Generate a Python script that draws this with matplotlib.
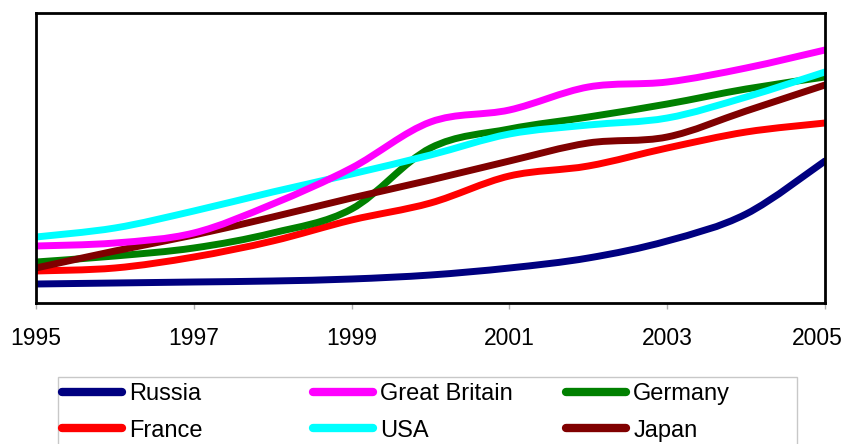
import matplotlib.pyplot as plt
import matplotlib.transforms as mtransforms
from matplotlib.lines import Line2D
from matplotlib.patches import PathPatch, Rectangle
from matplotlib.path import Path

plt.rcParams["font.family"] = ["Liberation Sans", "DejaVu Sans"]

years = list(range(1995, 2006))
tick_years = [1995, 1997, 1999, 2001, 2003, 2005]

russia = [19, 20, 21, 22, 24, 28, 35, 45, 62, 89, 142]
great_britain = [57, 60, 70, 99, 135, 181, 193, 216, 221, 235, 253]
germany = [41, 47, 55, 70, 94, 155, 174, 186, 199, 214, 226]
france = [32, 35, 46, 62, 83, 100, 127, 137, 155, 171, 180]
usa = [66, 75, 92, 111, 129, 148, 169, 178, 185, 206, 231]
japan = [35, 52, 68, 86, 105, 123, 142, 160, 166, 192, 218]

series = [
    ("Russia", russia, "#000080"),
    ("France", france, "#ff0000"),
    ("Great Britain", great_britain, "#ff00ff"),
    ("USA", usa, "#00ffff"),
    ("Germany", germany, "#008000"),
    ("Japan", japan, "#800000"),
]
# drawing order (later on top)
draw_order = ["Russia", "France", "Germany", "Japan", "USA", "Great Britain"]


def smooth_path(xs, ys):
    # cardinal spline through the points, written as cubic Bezier segments
    pts = list(zip(xs, ys))
    verts = [pts[0]]
    codes = [Path.MOVETO]
    n = len(pts)
    for i in range(n - 1):
        p0 = pts[max(i - 1, 0)]
        p1 = pts[i]
        p2 = pts[i + 1]
        p3 = pts[min(i + 2, n - 1)]
        c1 = (p1[0] + (p2[0] - p0[0]) / 6, p1[1] + (p2[1] - p0[1]) / 6)
        c2 = (p2[0] - (p3[0] - p1[0]) / 6, p2[1] - (p3[1] - p1[1]) / 6)
        verts += [c1, c2, p2]
        codes += [Path.CURVE4] * 3
    return Path(verts, codes)


fig = plt.figure(figsize=(8.46, 4.44), dpi=100)
ax = fig.add_axes([36 / 846, 141 / 444, 789 / 846, 290 / 444])

lookup = {name: (vals, color) for name, vals, color in series}
for name in draw_order:
    vals, color = lookup[name]
    patch = PathPatch(smooth_path(years, vals), fill=False, edgecolor=color,
                      linewidth=5, capstyle="round", joinstyle="round")
    ax.add_patch(patch)

ax.set_xlim(1995, 2005)
ax.set_ylim(0, 290)
ax.set_xticks(tick_years)
ax.set_xticklabels([str(y) for y in tick_years])
ax.set_yticks([])
ax.tick_params(axis="x", direction="out", length=4.5, width=1, color="#b0b0b0",
               labelsize=16.5, pad=12.5)
for spine in ax.spines.values():
    spine.set_linewidth(2)
    spine.set_color("black")

# keep the last year label inside the figure
last = ax.get_xticklabels()[-1]
last.set_transform(last.get_transform() +
                   mtransforms.ScaledTranslation(-8 / 100, 0, fig.dpi_scale_trans))

# legend frame
fig.patches.append(Rectangle((58 / 846, -10 / 444), 739 / 846, 77 / 444,
                             transform=fig.transFigure, fill=False,
                             edgecolor="#c8c8c8", linewidth=1))

columns = [
    (62, ["Russia", "France"]),
    (313, ["Great Britain", "USA"]),
    (566, ["Germany", "Japan"]),
]
for x0, names in columns:
    handles = [Line2D([], [], color=lookup[n][1], linewidth=6,
                      solid_capstyle="round") for n in names]
    fig.legend(handles, names, loc="center left",
               bbox_to_anchor=(x0 / 846, (444 - 412.5) / 444),
               frameon=False, fontsize=17, handlelength=2.55,
               handletextpad=0.3, labelspacing=0.6, borderpad=0,
               borderaxespad=0)

fig.savefig("out.png", dpi=100)
